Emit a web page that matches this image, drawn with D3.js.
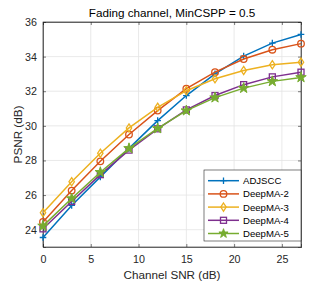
<!DOCTYPE html>
<html><head><meta charset="utf-8">
<script src="https://cdn.jsdelivr.net/npm/d3@7"></script>
<style>body{margin:0;background:#fff}svg{display:block;font-family:"Liberation Sans",Arial,sans-serif}</style>
</head><body><svg id="c" width="332" height="282"></svg>
<script>
const snr = [0,3,6,9,12,15,18,21,24,27];
const seriesNames = ["ADJSCC","DeepMA-2","DeepMA-3","DeepMA-4","DeepMA-5"];
const adjscc = [23.55,25.4,27.05,28.7,30.3,31.75,33.0,34.03,34.78,35.28];
const deepma2 = [24.45,26.26,27.95,29.5,30.88,32.15,33.1,33.86,34.4,34.75];
const deepma3 = [24.98,26.77,28.42,29.88,31.07,32.03,32.72,33.2,33.53,33.68];
const deepma4 = [24.05,25.63,27.18,28.6,29.83,30.92,31.75,32.38,32.83,33.1];
const deepma5 = [24.22,25.8,27.32,28.7,29.85,30.88,31.63,32.18,32.57,32.8];
const xTicks = [0,5,10,15,20,25];
const yTicks = [24,26,28,30,32,34,36];
const colors = ["#0072BD","#D95319","#EDB120","#7E2F8E","#77AC30"];
const markers = ["plus","circle","diamond","square","star"];
const allData = [adjscc,deepma2,deepma3,deepma4,deepma5];

const svg = d3.select("#c");
const L=43,R=301,T=22,B=247;
const x = d3.scaleLinear().domain([0,27]).range([L,R]);
const y = d3.scaleLinear().domain([23,36]).range([B,T]);
const axCol="#262626";

// grid
const g = svg.append("g");
g.selectAll(".gx").data(xTicks).enter().append("line")
 .attr("x1",d=>x(d)).attr("x2",d=>x(d)).attr("y1",T).attr("y2",B)
 .attr("stroke","#e3e3e3").attr("stroke-width",0.8);
g.selectAll(".gy").data(yTicks).enter().append("line")
 .attr("y1",d=>y(d)).attr("y2",d=>y(d)).attr("x1",L).attr("x2",R)
 .attr("stroke","#e3e3e3").attr("stroke-width",0.8);

// axes
const xa = svg.append("g").attr("transform",`translate(0,${B})`)
 .call(d3.axisBottom(x).tickValues(xTicks).tickSize(-3).tickPadding(8).tickFormat(d3.format("d")));
const xa2 = svg.append("g").attr("transform",`translate(0,${T})`)
 .call(d3.axisTop(x).tickValues(xTicks).tickSize(-3).tickFormat(""));
const ya = svg.append("g").attr("transform",`translate(${L},0)`)
 .call(d3.axisLeft(y).tickValues(yTicks).tickSize(-3).tickPadding(6).tickFormat(d3.format("d")));
const ya2 = svg.append("g").attr("transform",`translate(${R},0)`)
 .call(d3.axisRight(y).tickValues(yTicks).tickSize(-3).tickFormat(""));
[xa,xa2,ya,ya2].forEach(a=>{
  a.select(".domain").attr("stroke",axCol).attr("stroke-width",0.6);
  a.selectAll(".tick line").attr("stroke",axCol).attr("stroke-width",0.6);
  a.selectAll(".tick text").attr("fill",axCol).attr("font-size",10.7).attr("font-family","Liberation Sans, Arial, sans-serif");
});
svg.append("rect").attr("x",L).attr("y",T).attr("width",R-L).attr("height",B-T)
 .attr("fill","none").attr("stroke",axCol).attr("stroke-width",0.6);

function drawMarker(sel, type, color, cx, cy, sz){
  const s=3.3, st=sz||34;
  if(type==="plus"){
    sel.append("path").attr("d",`M${cx-s},${cy}H${cx+s}M${cx},${cy-s}V${cy+s}`)
      .attr("stroke",color).attr("stroke-width",1.3).attr("fill","none");
  } else if(type==="circle"){
    sel.append("circle").attr("cx",cx).attr("cy",cy).attr("r",s).attr("fill","none")
      .attr("stroke",color).attr("stroke-width",1.3);
  } else if(type==="diamond"){
    sel.append("path").attr("d",`M${cx},${cy-s-0.8}L${cx+s-0.6},${cy}L${cx},${cy+s+0.8}L${cx-s+0.6},${cy}Z`)
      .attr("fill","none").attr("stroke",color).attr("stroke-width",1.3);
  } else if(type==="square"){
    sel.append("rect").attr("x",cx-s+0.3).attr("y",cy-s+0.3).attr("width",2*s-0.6).attr("height",2*s-0.6)
      .attr("fill","none").attr("stroke",color).attr("stroke-width",1.3);
  } else if(type==="star"){
    sel.append("path").attr("d",d3.symbol().type(d3.symbolStar).size(st)())
      .attr("transform",`translate(${cx},${cy})`).attr("fill",color).attr("stroke",color).attr("stroke-width",1);
  }
}

const line = d3.line().x((d,i)=>x(snr[i])).y(d=>y(d));
allData.forEach((vals,k)=>{
  const gs = svg.append("g");
  gs.append("path").datum(vals).attr("d",line).attr("fill","none")
    .attr("stroke",colors[k]).attr("stroke-width",1.5);
  vals.forEach((v,i)=>drawMarker(gs,markers[k],colors[k],x(snr[i]),y(v)));
});

// legend
const lx=204, ly=170, lw=97, lh=71;
const lg = svg.append("g");
lg.append("rect").attr("x",lx).attr("y",ly).attr("width",lw).attr("height",lh)
  .attr("fill","#fff").attr("stroke",axCol).attr("stroke-width",0.6);
seriesNames.forEach((n,k)=>{
  const yy = ly+10.7+k*13.2;
  lg.append("line").attr("x1",lx+4).attr("x2",lx+35).attr("y1",yy).attr("y2",yy)
    .attr("stroke",colors[k]).attr("stroke-width",1.5);
  drawMarker(lg,markers[k],colors[k],lx+19.5,yy,26);
  lg.append("text").attr("x",lx+39).attr("y",yy+3.5).attr("font-size",9.6)
    .attr("fill","#000").text(n);
});

// title & labels
svg.append("text").attr("x",(L+R)/2).attr("y",16.5).attr("text-anchor","middle")
  .attr("font-size",11.7).attr("fill","#000").text("Fading channel, MinCSPP = 0.5");
svg.append("text").attr("x",(L+R)/2).attr("y",279).attr("text-anchor","middle")
  .attr("font-size",11.7).attr("fill",axCol).text("Channel SNR (dB)");
svg.append("text").attr("transform",`translate(22,${(T+B)/2}) rotate(-90)`).attr("text-anchor","middle")
  .attr("font-size",11.7).attr("fill",axCol).text("PSNR (dB)");
</script></body></html>
